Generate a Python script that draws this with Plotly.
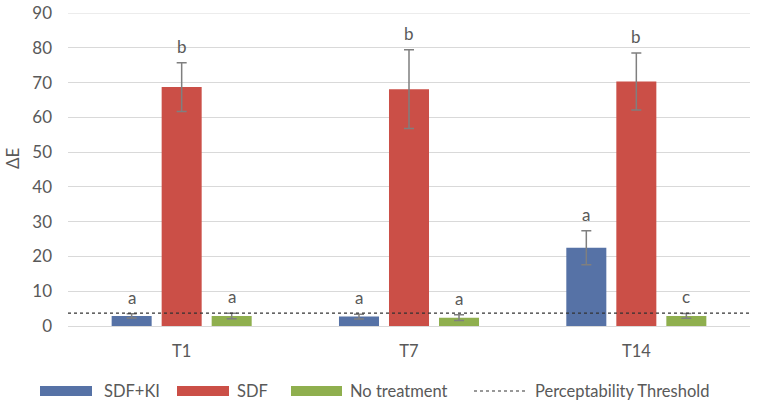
import plotly.graph_objects as go

categories = ["T1", "T7", "T14"]
series_names = ["SDF+KI", "SDF", "No treatment"]
sdf_ki = [2.9, 2.7, 22.5]
sdf_ki_err = [0.6, 0.7, 4.9]
sdf = [68.7, 68.1, 70.3]
sdf_err = [7.0, 11.3, 8.2]
no_treat = [2.9, 2.4, 2.9]
no_treat_err = [0.8, 0.8, 0.7]
letters_ki = ["a", "a", "a"]
letters_sdf = ["b", "b", "b"]
letters_nt = ["a", "a", "c"]
threshold = 3.7
threshold_name = "Perceptability Threshold"
y_title = "ΔE"
y_ticks = [0, 10, 20, 30, 40, 50, 60, 70, 80, 90]

colors = ["#5672A6", "#CB4F47", "#8FAF4E"]
offsets = [-0.22, 0.0, 0.22]
bar_w = 0.176
font = "Lato, 'Open Sans', sans-serif"
txt_col = "#595959"
line_col = "#333333"
grid_col = "#D9D9D9"

values = [sdf_ki, sdf, no_treat]
errs = [sdf_ki_err, sdf_err, no_treat_err]
letters = [letters_ki, letters_sdf, letters_nt]

W, H = 759, 410
PL, PR, PT, PB = 68, 750, 13, 326   # plot area in pixels
ML, MT, MR, MB = PL, PT, W - PR, H - PB
PW = PR - PL
PH = PB - PT


def px_x(p):
    return (p - PL) / PW


def px_y(p):
    return (PB - p) / PH


fig = go.Figure()
annotations = []
shapes = []
for s in range(3):
    xs = [i + offsets[s] for i in range(len(categories))]
    fig.add_trace(go.Bar(
        x=xs, y=values[s], width=bar_w, name=series_names[s],
        marker=dict(color=colors[s], line=dict(width=0)),
        error_y=dict(type="data", array=errs[s], visible=True,
                     color="#7F7F7F", thickness=1.5, width=5),
        showlegend=False,
    ))
    for i in range(len(categories)):
        annotations.append(dict(
            x=xs[i], y=values[s][i] + errs[s][i], xref="x", yref="y",
            text=letters[s][i], showarrow=False, yanchor="bottom", yshift=4,
            font=dict(family=font, size=17, color=txt_col)))

# top gridline (plotly omits the gridline lying on the plot edge)
shapes.append(dict(type="line", xref="paper", yref="y", x0=0, x1=1,
                   y0=y_ticks[-1], y1=y_ticks[-1], layer="below",
                   line=dict(color=grid_col, width=1)))
shapes.append(dict(type="line", xref="paper", yref="y", x0=0, x1=1,
                   y0=threshold, y1=threshold,
                   line=dict(color=line_col, width=1.2, dash="dot")))

# y-axis title
annotations.append(dict(x=px_x(12), y=px_y(158), xref="paper", yref="paper",
                        text=y_title, showarrow=False, textangle=-90,
                        xanchor="center", yanchor="middle",
                        font=dict(family=font, size=17, color=txt_col)))

# legend (drawn manually to get wide swatches)
leg_y = 391
swatches = [(40, 92, 102), (177, 229, 235), (291, 342, 348)]
for s, (a, b, t) in enumerate(swatches):
    shapes.append(dict(type="rect", xref="paper", yref="paper",
                       x0=px_x(a), x1=px_x(b), y0=px_y(leg_y + 5), y1=px_y(leg_y - 5),
                       fillcolor=colors[s], line=dict(width=0)))
    annotations.append(dict(x=px_x(t), y=px_y(leg_y), xref="paper", yref="paper",
                            text=series_names[s], showarrow=False,
                            xanchor="left", yanchor="middle",
                            font=dict(family=font, size=16.5, color=txt_col)))
shapes.append(dict(type="line", xref="paper", yref="paper",
                   x0=px_x(474), x1=px_x(528), y0=px_y(leg_y), y1=px_y(leg_y),
                   line=dict(color=line_col, width=1.2, dash="dot")))
annotations.append(dict(x=px_x(533), y=px_y(leg_y), xref="paper", yref="paper",
                        text=threshold_name, showarrow=False,
                        xanchor="left", yanchor="middle",
                        font=dict(family=font, size=16.5, color=txt_col)))

fig.update_layout(
    width=W, height=H,
    margin=dict(l=ML, r=MR, t=MT, b=MB),
    paper_bgcolor="white", plot_bgcolor="white",
    barmode="overlay",
    showlegend=False,
    font=dict(family=font, size=16, color=txt_col),
    annotations=annotations,
    shapes=shapes,
    xaxis=dict(range=[-0.5, 2.5], tickvals=list(range(len(categories))),
               ticktext=categories, showgrid=False, zeroline=False,
               showline=True, linecolor=grid_col, linewidth=1,
               ticks="", ticklabelstandoff=10, automargin=False,
               tickfont=dict(size=16.5, color=txt_col)),
    yaxis=dict(range=[0, 90], tickvals=y_ticks, showgrid=True,
               gridcolor=grid_col, gridwidth=1, zeroline=False,
               showline=False, ticks="", ticklabelstandoff=15,
               automargin=False, ticklabeloverflow="allow",
               tickfont=dict(size=17, color=txt_col)),
)

fig.write_html("out.html", config={"displayModeBar": False},
               post_script="document.body.style.margin='0';")
